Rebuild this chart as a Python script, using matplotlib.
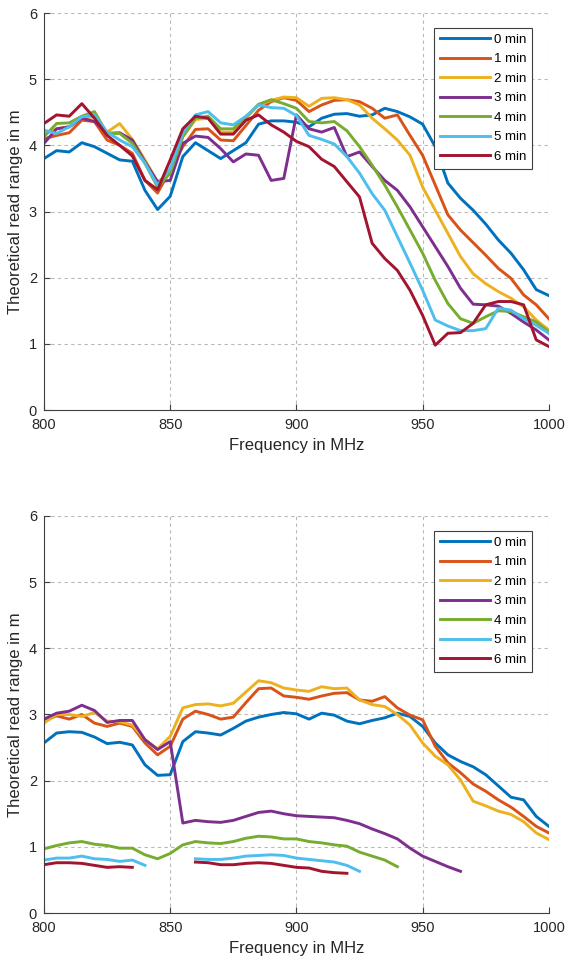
import numpy as np
import matplotlib
matplotlib.use("Agg")
import matplotlib.pyplot as plt

plt.rcParams['font.family'] = ['Liberation Sans', 'DejaVu Sans']

# frequency axis, 5 MHz steps
freq = np.arange(800, 1001, 5)
labels = ["0 min", "1 min", "2 min", "3 min", "4 min", "5 min", "6 min"]
colors = ["#0072BD", "#D95319", "#EDB120", "#7E2F8E", "#77AC30", "#4DBEEE", "#A2142F"]
nan = np.nan

# top panel
top_0 = [3.80, 3.92, 3.90, 4.04, 3.98, 3.88, 3.78, 3.76, 3.32, 3.03, 3.23, 3.83, 4.04, 3.92,
         3.80, 3.92, 4.04, 4.32, 4.37, 4.37, 4.35, 4.28, 4.41, 4.47, 4.48, 4.44, 4.46, 4.56,
         4.51, 4.43, 4.32, 3.98, 3.43, 3.20, 3.02, 2.81, 2.57, 2.37, 2.12, 1.82, 1.73]
top_1 = [4.10, 4.15, 4.19, 4.38, 4.36, 4.08, 4.00, 3.88, 3.47, 3.28, 3.63, 3.98, 4.24, 4.25,
         4.08, 4.07, 4.30, 4.53, 4.66, 4.72, 4.68, 4.51, 4.61, 4.68, 4.69, 4.66, 4.56, 4.41,
         4.46, 4.15, 3.85, 3.40, 2.95, 2.72, 2.53, 2.34, 2.14, 1.99, 1.74, 1.59, 1.38]
top_2 = [4.18, 4.25, 4.28, 4.41, 4.43, 4.20, 4.33, 4.09, 3.78, 3.45, 3.58, 4.13, 4.39, 4.41,
         4.20, 4.20, 4.41, 4.61, 4.68, 4.73, 4.72, 4.59, 4.71, 4.72, 4.69, 4.61, 4.41, 4.25,
         4.08, 3.85, 3.37, 3.02, 2.67, 2.32, 2.06, 1.91, 1.79, 1.69, 1.56, 1.36, 1.21]
top_3 = [4.03, 4.25, 4.28, 4.41, 4.36, 4.18, 4.19, 4.08, 3.75, 3.45, 3.47, 4.03, 4.14, 4.12,
         3.95, 3.75, 3.87, 3.85, 3.47, 3.50, 4.46, 4.25, 4.20, 4.27, 3.83, 3.90, 3.68, 3.47,
         3.32, 3.07, 2.77, 2.47, 2.17, 1.84, 1.60, 1.59, 1.57, 1.46, 1.33, 1.21, 1.06]
top_4 = [4.13, 4.33, 4.34, 4.44, 4.51, 4.18, 4.18, 4.03, 3.73, 3.37, 3.58, 4.13, 4.41, 4.44,
         4.25, 4.25, 4.43, 4.62, 4.69, 4.63, 4.56, 4.36, 4.34, 4.36, 4.22, 3.98, 3.70, 3.40,
         3.07, 2.72, 2.37, 1.96, 1.61, 1.38, 1.31, 1.41, 1.50, 1.49, 1.41, 1.33, 1.18]
top_5 = [4.23, 4.18, 4.28, 4.43, 4.46, 4.20, 4.08, 3.98, 3.73, 3.40, 3.65, 4.18, 4.46, 4.51,
         4.34, 4.31, 4.44, 4.61, 4.57, 4.56, 4.45, 4.15, 4.09, 4.02, 3.83, 3.58, 3.27, 3.02,
         2.62, 2.22, 1.81, 1.36, 1.27, 1.20, 1.20, 1.23, 1.54, 1.51, 1.38, 1.28, 1.16]
top_6 = [4.33, 4.46, 4.44, 4.63, 4.41, 4.15, 4.00, 3.84, 3.47, 3.33, 3.78, 4.25, 4.44, 4.41,
         4.17, 4.17, 4.38, 4.46, 4.31, 4.20, 4.06, 3.98, 3.79, 3.68, 3.45, 3.22, 2.52, 2.29,
         2.11, 1.81, 1.43, 0.98, 1.16, 1.17, 1.31, 1.59, 1.64, 1.64, 1.59, 1.06, 0.96]

# bottom panel (NaN = no reading)
bot_0 = [2.57, 2.72, 2.74, 2.73, 2.66, 2.56, 2.58, 2.54, 2.24, 2.08, 2.09, 2.59, 2.74, 2.72,
         2.69, 2.79, 2.90, 2.96, 3.00, 3.03, 3.01, 2.93, 3.02, 2.99, 2.90, 2.86, 2.91, 2.95,
         3.02, 2.97, 2.82, 2.57, 2.39, 2.29, 2.21, 2.09, 1.92, 1.75, 1.71, 1.46, 1.31]
bot_1 = [2.90, 2.98, 2.93, 3.00, 2.87, 2.82, 2.87, 2.82, 2.57, 2.39, 2.52, 2.93, 3.05, 3.00,
         2.93, 2.96, 3.18, 3.39, 3.40, 3.28, 3.26, 3.23, 3.28, 3.32, 3.33, 3.22, 3.20, 3.27,
         3.10, 2.99, 2.92, 2.52, 2.27, 2.12, 1.95, 1.84, 1.71, 1.60, 1.46, 1.31, 1.21]
bot_2 = [2.87, 3.00, 3.00, 2.97, 3.03, 2.90, 2.89, 2.84, 2.62, 2.48, 2.67, 3.10, 3.15, 3.16,
         3.13, 3.17, 3.34, 3.51, 3.48, 3.40, 3.37, 3.35, 3.42, 3.39, 3.40, 3.22, 3.15, 3.12,
         3.00, 2.84, 2.57, 2.37, 2.24, 2.01, 1.69, 1.62, 1.54, 1.49, 1.38, 1.21, 1.11]
bot_3 = [2.93, 3.02, 3.05, 3.14, 3.06, 2.88, 2.91, 2.91, 2.62, 2.47, 2.59, 1.36, 1.40, 1.38,
         1.37, 1.40, 1.46, 1.52, 1.54, 1.50, 1.47, 1.46, 1.45, 1.44, 1.40, 1.35, 1.27, 1.20,
         1.12, 0.98, 0.86, 0.78, 0.70, 0.63, nan, nan, nan, nan, nan, nan, nan]
bot_4 = [0.97, 1.02, 1.06, 1.08, 1.04, 1.02, 0.98, 0.98, 0.88, 0.82, 0.90, 1.03, 1.08, 1.06,
         1.05, 1.08, 1.13, 1.16, 1.15, 1.12, 1.12, 1.08, 1.06, 1.03, 1.01, 0.92, 0.86, 0.80,
         0.70, nan, nan, nan, nan, nan, nan, nan, nan, nan, nan, nan, nan]
bot_5 = [0.80, 0.83, 0.83, 0.86, 0.82, 0.81, 0.78, 0.80, 0.72, nan, nan, nan, 0.82, 0.81,
         0.81, 0.83, 0.86, 0.87, 0.88, 0.87, 0.83, 0.81, 0.79, 0.77, 0.72, 0.63, nan, nan,
         nan, nan, nan, nan, nan, nan, nan, nan, nan, nan, nan, nan, nan]
bot_6 = [0.73, 0.76, 0.76, 0.75, 0.72, 0.69, 0.70, 0.69, nan, nan, nan, nan, 0.77, 0.76,
         0.73, 0.73, 0.75, 0.76, 0.75, 0.72, 0.69, 0.68, 0.63, 0.61, 0.60, nan, nan, nan,
         nan, nan, nan, nan, nan, nan, nan, nan, nan, nan, nan, nan, nan]

top = [top_0, top_1, top_2, top_3, top_4, top_5, top_6]
bot = [bot_0, bot_1, bot_2, bot_3, bot_4, bot_5, bot_6]

fig = plt.figure(figsize=(5.66, 9.63), dpi=100)
ax1 = fig.add_axes([0.0777, 0.5742, 0.892, 0.4123])
ax2 = fig.add_axes([0.0777, 0.0519, 0.892, 0.4123])

for ax, series in [(ax1, top), (ax2, bot)]:
    for s, c, lab in zip(series, colors, labels):
        ax.plot(freq, s, color=c, lw=2.1, label=lab)
    ax.set_xlim(800, 1000)
    ax.set_ylim(0, 6)
    ax.set_xticks([800, 850, 900, 950, 1000])
    ax.set_yticks(range(7))
    ax.grid(True, ls=(0, (3, 3)), color="#b8b8b8", lw=0.8)
    ax.set_axisbelow(True)
    for side in ["top", "right"]:
        ax.spines[side].set_visible(False)
    for side in ["left", "bottom"]:
        ax.spines[side].set_color("#404040")
        ax.spines[side].set_linewidth(0.8)
    ax.tick_params(direction="in", length=4, width=0.8, color="#404040",
                   labelcolor="#262626", labelsize=10.5)
    ax.tick_params(axis="x", pad=6)
    ax.tick_params(axis="y", pad=5)
    ax.set_xlabel("Frequency in MHz", fontsize=12, color="#262626", labelpad=4)
    ax.set_ylabel("Theoretical read range in m", fontsize=12, color="#262626", labelpad=4)
    leg = ax.legend(loc="upper right", bbox_to_anchor=(0.967, 0.963), fontsize=9.5,
                    handlelength=3.8, handletextpad=0.3, labelspacing=0.55,
                    borderpad=0.45, borderaxespad=0, fancybox=False, framealpha=1,
                    edgecolor="#404040")
    leg.get_frame().set_linewidth(0.8)

fig.savefig("out.png", dpi=100)
